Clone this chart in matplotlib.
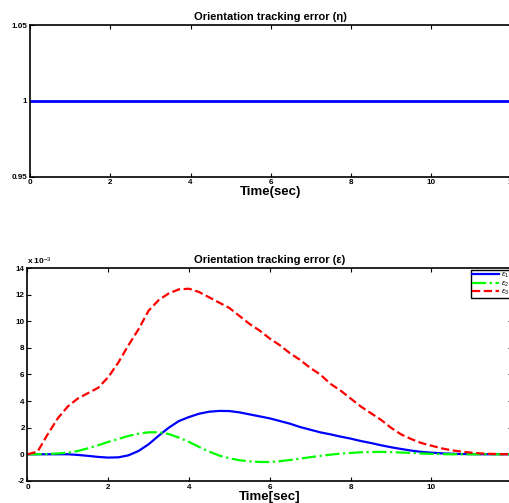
import numpy as np
import matplotlib.pyplot as plt

plt.rcParams['font.family'] = ['Liberation Sans', 'DejaVu Sans']
plt.rcParams['mathtext.fontset'] = 'custom'
plt.rcParams['mathtext.rm'] = 'Liberation Sans'
plt.rcParams['mathtext.it'] = 'Liberation Sans:italic'
plt.rcParams['axes.unicode_minus'] = False

# time samples (sec)
t = np.arange(0, 12.01, 0.25)

# eta (scalar part) stays at 1
eta = [1.0] * len(t)

# vector part, units of 1e-3
eps1 = [0, 0, 0, 0, 0, -0.05, -0.12, -0.2, -0.25, -0.23, -0.08, 0.25, 0.75,
        1.4, 2.0, 2.5, 2.8, 3.05, 3.2, 3.26, 3.25, 3.15, 3.0, 2.85, 2.7, 2.5,
        2.3, 2.05, 1.85, 1.65, 1.5, 1.33, 1.18, 1.0, 0.85, 0.68, 0.53, 0.4,
        0.28, 0.18, 0.12, 0.07, 0.04, 0.02, 0.01, 0, 0, 0, 0]
eps2 = [0, 0, 0.02, 0.06, 0.12, 0.25, 0.45, 0.68, 0.93, 1.15, 1.38, 1.55,
        1.65, 1.66, 1.52, 1.25, 0.93, 0.55, 0.2, -0.1, -0.3, -0.45, -0.53,
        -0.58, -0.58, -0.52, -0.43, -0.33, -0.22, -0.12, -0.03, 0.05, 0.1,
        0.15, 0.17, 0.18, 0.16, 0.13, 0.1, 0.06, 0.03, 0.01, 0, 0, 0, 0, 0,
        0, 0]
eps3 = [0, 0.2, 1.5, 2.7, 3.6, 4.2, 4.6, 5.0, 5.8, 6.9, 8.2, 9.4, 10.8, 11.6,
        12.1, 12.4, 12.45, 12.2, 11.8, 11.4, 11.0, 10.4, 9.8, 9.3, 8.7, 8.2,
        7.6, 7.1, 6.5, 6.0, 5.3, 4.8, 4.2, 3.6, 3.1, 2.6, 2.0, 1.5, 1.15, 0.85,
        0.65, 0.45, 0.3, 0.2, 0.12, 0.06, 0.03, 0.01, 0]

fig = plt.figure(figsize=(5.09, 5.03), dpi=100)

# top plot
ax1 = fig.add_axes([0.059, 0.649, 0.946, 0.301])
ax1.plot(t, eta, color='#0000ff', lw=2)
ax1.set_xlim(0, 12)
ax1.set_ylim(0.95, 1.05)
ax1.set_xticks(range(0, 13, 2))
ax1.set_yticks([0.95, 1.0, 1.05])
ax1.set_yticklabels(['0.95', '1', '1.05'])
ax1.set_title('Orientation tracking error (η)', fontsize=8, fontweight='bold', pad=4)
ax1.set_xlabel('Time(sec)', fontsize=9.5, fontweight='bold', labelpad=0)

# bottom plot
ax2 = fig.add_axes([0.054, 0.044, 0.952, 0.423])
ax2.plot(t, eps1, color='#0000ff', lw=1.6, label=r'$\epsilon_1$')
ax2.plot(t, eps2, color='#00ff00', lw=1.6, ls='-.', label=r'$\epsilon_2$')
ax2.plot(t, eps3, color='#ff0000', lw=1.6, ls='--', label=r'$\epsilon_3$')
ax2.set_xlim(0, 12)
ax2.set_ylim(-2, 14)
ax2.set_xticks(range(0, 11, 2))
ax2.set_yticks(range(-2, 15, 2))
ax2.set_title('Orientation tracking error (ε)', fontsize=8, fontweight='bold', pad=4)
ax2.set_xlabel('Time[sec]', fontsize=9.5, fontweight='bold', labelpad=0)
ax2.text(0.0, 1.005, r'x 10$^{-3}$', transform=ax2.transAxes, fontsize=6,
         fontweight='bold', ha='left', va='bottom')
leg = ax2.legend(loc='upper right', fontsize=5.5, fancybox=False, framealpha=1,
                 edgecolor='black', handlelength=3.5, borderpad=0.15,
                 labelspacing=-0.1, handletextpad=0.3, borderaxespad=0.25)
leg.get_frame().set_linewidth(1)

for ax in (ax1, ax2):
    ax.tick_params(direction='in', top=True, right=True, labelsize=5.8,
                   length=3, width=0.8, pad=2)
    for lab in ax.get_xticklabels() + ax.get_yticklabels():
        lab.set_fontweight('bold')
    for s in ax.spines.values():
        s.set_linewidth(1.2)

plt.savefig('out.png', dpi=100)
